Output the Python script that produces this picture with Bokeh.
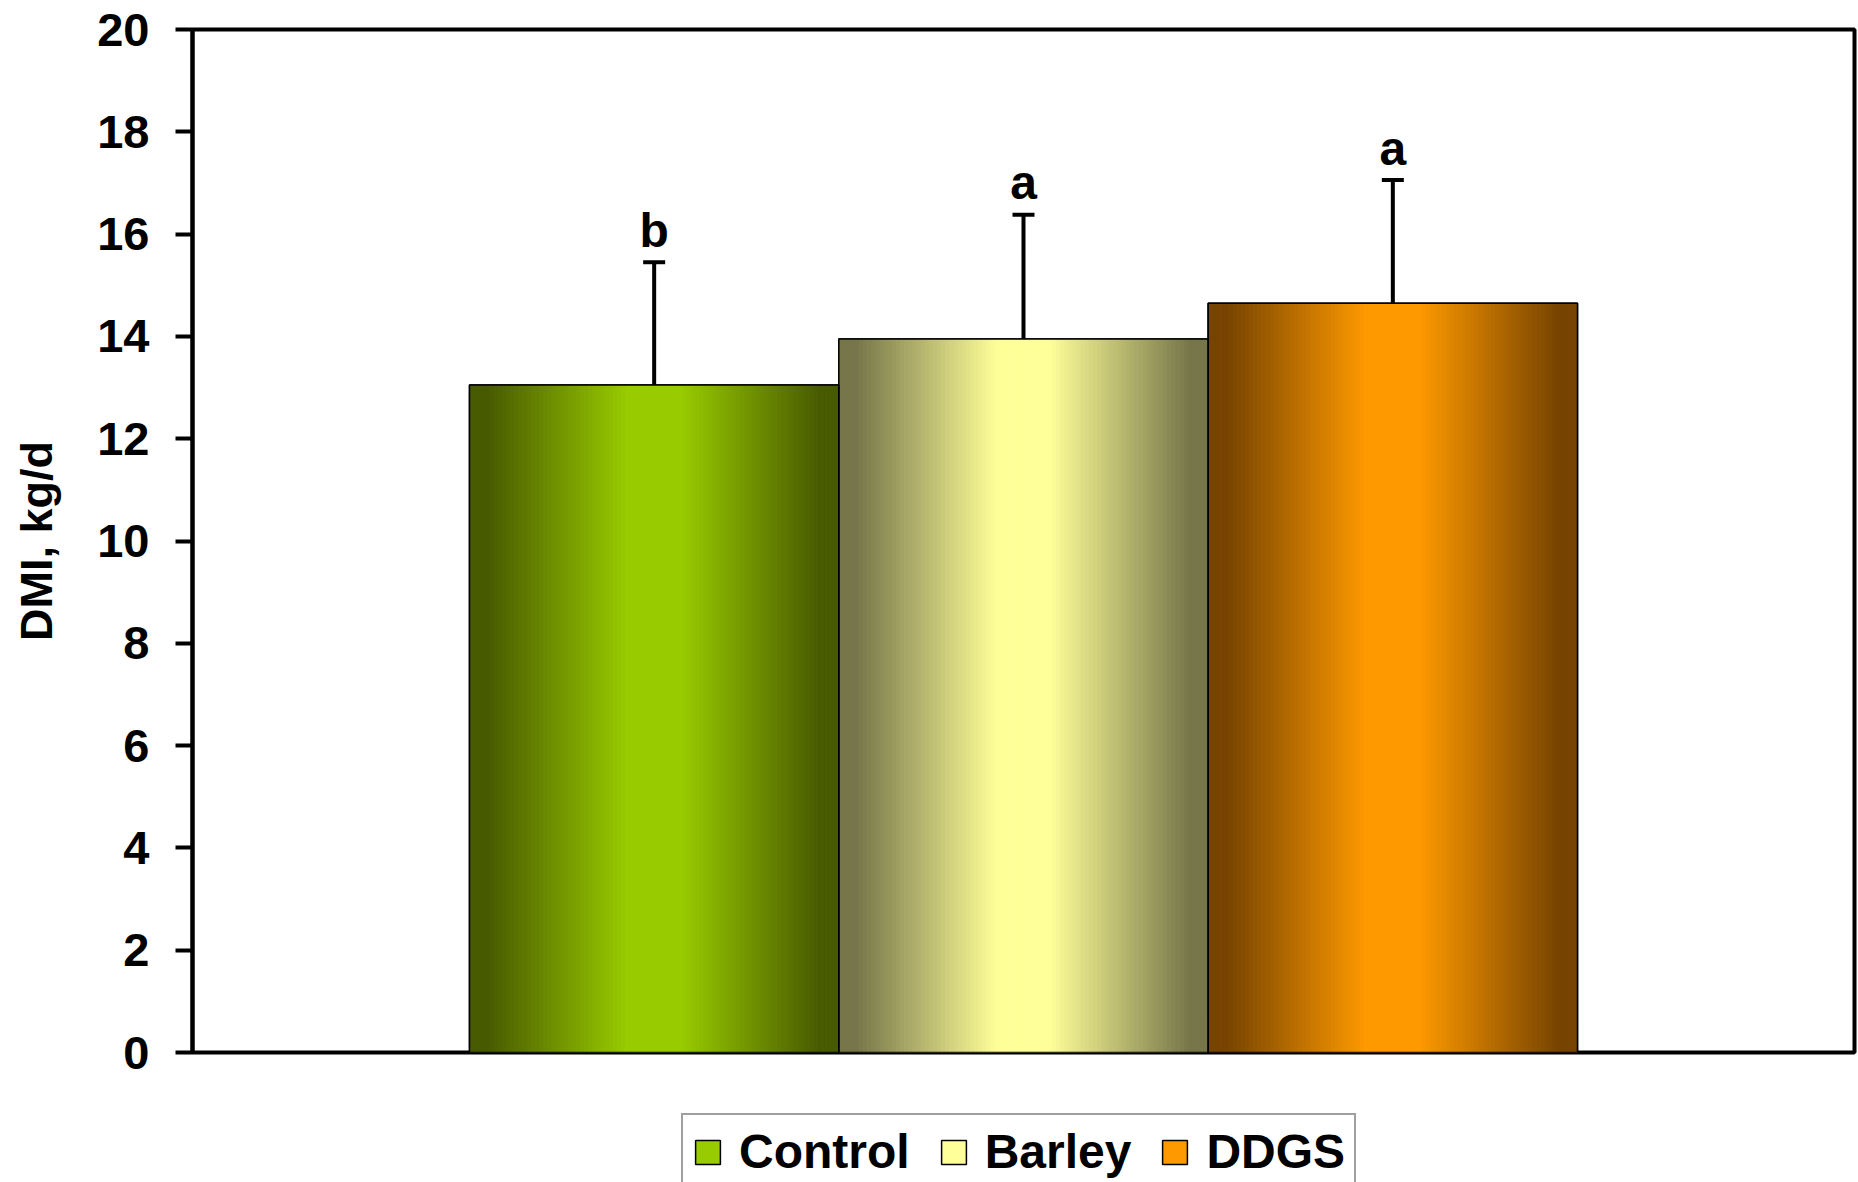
import numpy as np
from bokeh.plotting import figure
from bokeh.layouts import column
from bokeh.models import (Range1d, ColumnDataSource, Whisker, Legend, LegendItem,
                          FixedTicker, TeeHead)
from bokeh.core.properties import value
from bokeh.embed import file_html
from bokeh.resources import INLINE

# ---- data ----
categories = ["Control", "Barley", "DDGS"]
dmi = [13.05, 13.95, 14.65]          # kg/d
sd = [2.40, 2.43, 2.41]
letters = ["b", "a", "a"]
y_ticks = [0, 2, 4, 6, 8, 10, 12, 14, 16, 18, 20]

# ---- style ----
center_colors = ["#99cc00", "#ffff99", "#ff9900"]
edge_colors = ["#485a00", "#76764a", "#764400"]
FONT = "Liberation Sans"
positions = [1, 2, 3]
BAR_W = 1.0
N_STRIPES = 90


def hex2rgb(h):
    h = h.lstrip("#")
    return np.array([int(h[i:i + 2], 16) for i in (0, 2, 4)], dtype=float)


def rgb2hex(c):
    c = np.clip(np.round(c), 0, 255).astype(int)
    return "#%02x%02x%02x" % tuple(c)


p = figure(width=1858, height=1113, output_backend="svg", toolbar_location=None,
           x_range=Range1d(-0.25, 4.25), y_range=Range1d(0, 20),
           x_axis_type=None, min_border_left=192, min_border_right=4,
           min_border_top=29, min_border_bottom=61)
p.grid.visible = False
p.outline_line_color = "black"
p.outline_line_width = 4
p.background_fill_color = "white"
p.border_fill_color = "white"

src = ColumnDataSource(dict(x=positions, top=dmi, cat=categories,
                            fill=center_colors,
                            upper=[m + s for m, s in zip(dmi, sd)],
                            lbl_y=[m + s + 0.62 for m, s in zip(dmi, sd)],
                            letter=letters))

# base bars
for i, cat in enumerate(categories):
    p.vbar(x=[positions[i]], top=[dmi[i]], bottom=0, width=BAR_W,
           fill_color=center_colors[i], line_color="black", line_width=1.5)

# horizontal gradient stripes
sw = BAR_W / N_STRIPES
offs = np.linspace(-BAR_W / 2 + sw / 2, BAR_W / 2 - sw / 2, N_STRIPES)
t = np.abs(offs) / (BAR_W / 2)
f = np.clip((t - 0.14) / 0.76, 0, 1)
for i in range(len(categories)):
    c0 = hex2rgb(center_colors[i])
    c1 = hex2rgb(edge_colors[i])
    cols = [rgb2hex(c0 * (1 - ff) + c1 * ff) for ff in f]
    p.vbar(x=positions[i] + offs, top=[dmi[i]] * N_STRIPES, bottom=0,
           width=sw * 1.15, fill_color=cols, line_color=None)

# outline on top
p.vbar(x="x", top="top", bottom=0, width=BAR_W, source=src,
       fill_color=None, line_color="black", line_width=1.5)

# error bars (upper only)
wh = Whisker(base="x", upper="upper", lower="top", source=src,
             line_color="black", line_width=4, level="overlay",
             upper_head=TeeHead(size=22, line_width=4, line_color="black"),
             lower_head=None)
p.add_layout(wh)

# significance letters
p.text(x="x", y="lbl_y", text="letter", source=src, text_align="center",
       text_baseline="alphabetic", text_font=value(FONT), text_font_style="bold",
       text_font_size="48px", text_color="black")

# y axis
ax = p.yaxis[0]
ax.ticker = FixedTicker(ticks=y_ticks)
ax.axis_label = "DMI, kg/d"
ax.axis_label_text_font = FONT
ax.axis_label_text_font_style = "bold"
ax.axis_label_text_font_size = "45px"
ax.axis_label_standoff = 32
ax.major_label_text_font = FONT
ax.major_label_text_font_style = "bold"
ax.major_label_text_font_size = "47px"
ax.major_label_standoff = 26
ax.major_tick_out = 17
ax.major_tick_in = 0
ax.major_tick_line_width = 4
ax.minor_tick_line_color = None
ax.axis_line_width = 4
ax.axis_line_color = "black"
ax.major_tick_line_color = "black"
ax.major_label_text_color = "black"
ax.axis_label_text_color = "black"

# ---- legend strip (separate figure below) ----
p2 = figure(width=1858, height=69, output_backend="svg", toolbar_location=None,
            x_range=Range1d(0.5, 3.5), y_range=Range1d(0, 1),
            x_axis_type=None, y_axis_type=None,
            min_border_left=0, min_border_right=0, min_border_top=0,
            min_border_bottom=0)
p2.grid.visible = False
p2.outline_line_color = None
p2.background_fill_color = "white"
p2.border_fill_color = "white"

legend_items = []
for i, cat in enumerate(categories):
    # legend proxy: a bar with no height drawn (NaN), only its swatch shows
    r = p2.vbar(x=[positions[i]], top=[np.nan], bottom=0, width=BAR_W,
                fill_color=center_colors[i], line_color="black", line_width=1.5)
    legend_items.append(LegendItem(label=cat, renderers=[r]))

legend = Legend(items=legend_items, orientation="horizontal",
                location=(489, -8), label_text_font=FONT,
                label_text_font_style="bold", label_text_font_size="48px",
                label_text_color="black", glyph_width=31, glyph_height=30,
                label_standoff=16, spacing=28, padding=9, margin=0,
                border_line_color="#404040", border_line_width=2,
                background_fill_color="white", background_fill_alpha=1.0)
p2.add_layout(legend, "center")

layout = column(p, p2, spacing=0)
open("out.html", "w").write(file_html(layout, INLINE))
